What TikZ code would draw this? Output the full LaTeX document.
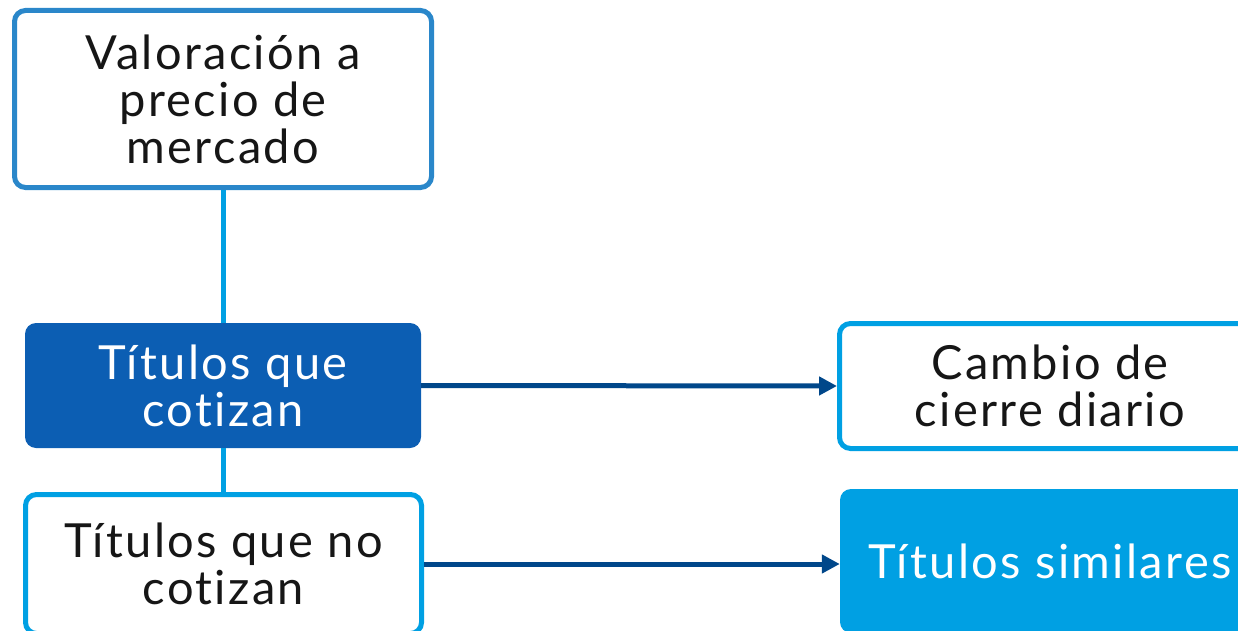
\documentclass[tikz,border=0pt]{standalone}
\usepackage{fontspec}
\setmainfont[LetterSpace=5, Ligatures={NoCommon}]{Lato}
\usetikzlibrary{arrows.meta}
\definecolor{boxblueA}{HTML}{2A87CA}
\definecolor{lightblue}{HTML}{00A0E3}
\definecolor{darkfill}{HTML}{0C5EB3}
\definecolor{arrowblue}{HTML}{00478A}
\definecolor{textdark}{HTML}{161616}
\tikzset{
  every node/.style={font=\fontsize{47}{47}\selectfont, align=center, inner sep=0pt},
  outlinebox/.style={draw=lightblue, line width=5pt, rounded corners=11pt, fill=white, text=textdark},
  filledbox/.style={fill=#1, rounded corners=11pt, text=white},
  link/.style={draw=lightblue, line width=5pt},
  flow/.style={draw=arrowblue, line width=5pt, -{Triangle[length=18pt,width=18pt]}},
}
\begin{document}
\begin{tikzpicture}[x=1pt,y=-1pt]
\useasboundingbox (0,0) rectangle (1238,631);
\clip (0,0) rectangle (1238,631);
\node[outlinebox, draw=boxblueA, minimum width=417pt, minimum height=177pt] (A) at (223,99) {Valoración a\\precio de\\mercado};
\node[filledbox=darkfill, minimum width=396pt, minimum height=125pt] (B) at (223,385.5) {Títulos que\\cotizan};
\node[outlinebox, minimum width=396pt, minimum height=139pt] (C) at (223.5,564) {Títulos que no\\cotizan};
\node[outlinebox, minimum width=421pt, minimum height=125pt] (D) at (1050,386) {Cambio de\\cierre diario};
\node[filledbox=lightblue, minimum width=420pt, minimum height=144pt] (E) at (1050,561) {Títulos similares};
\draw[link] (A.south) -- (B.north);
\draw[link] (B.south) -- (B.south |- C.north);
\draw[flow] (B.east) -- (D.west);
\draw[flow] (C.east) -- (C.east -| E.west);
\end{tikzpicture}
\end{document}
